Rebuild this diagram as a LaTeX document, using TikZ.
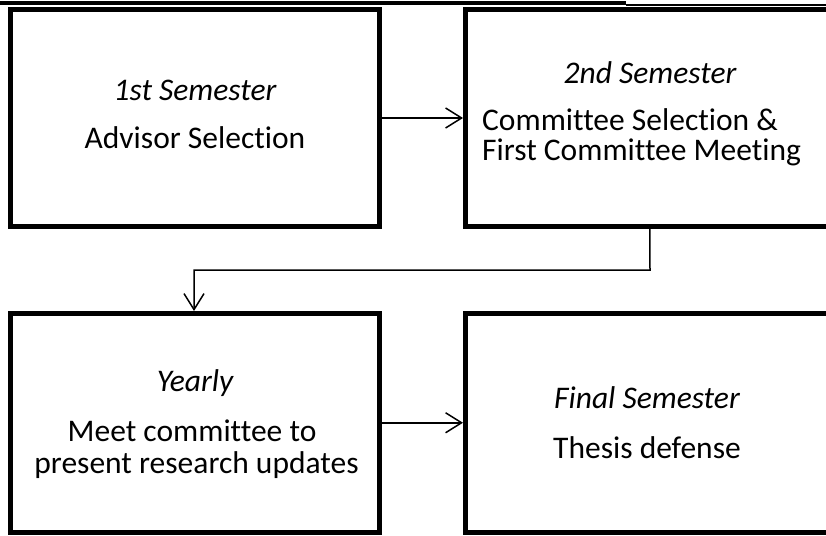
\documentclass[tikz,border=0pt]{standalone}
\usepackage{fontspec}
\setmainfont[Ligatures=NoCommon]{Carlito}
\usetikzlibrary{arrows.meta}
\begin{document}
\begin{tikzpicture}[x=1pt,y=-1pt,
  box/.style={draw=black,line width=5pt,minimum width=368.5pt,inner sep=0pt,fill=white},
  txt/.style={anchor=base,inner sep=0pt,font=\fontsize{31.5}{38}\selectfont},
  ttl/.style={txt,font=\fontsize{31.5}{38}\selectfont\itshape},
  conn/.style={draw=black,line width=1.5pt,-{Straight Barb[length=16pt,width=20pt]}}]
\useasboundingbox (0,0) rectangle (826,535);
\clip (0,0) rectangle (826,535);
% cropped rule at the top edge
\draw[line width=4.5pt] (0,3) -- (626,3);
\draw[line width=2pt] (626,5) -- (826,5);
% boxes
\node[box,minimum height=217pt] (b1) at (194.75,118) {};
\node[box,minimum height=217pt] (b2) at (649.75,118) {};
\node[box,minimum height=218.5pt] (b3) at (194.75,422.75) {};
\node[box,minimum height=218.5pt] (b4) at (649.75,422.75) {};
% texts
\node[ttl] (t1a) at (195,100) {1st Semester};
\node[txt] (t1b) at (195,148) {Advisor Selection};
\node[ttl] (t2a) at (650,83.3) {2nd Semester};
\node[txt,anchor=base west] (t2b) at (482,130) {Committee Selection \&};
\node[txt,anchor=base west] (t2c) at (482,160) {First Committee Meeting};
\node[ttl] (t3a) at (195,391) {Yearly};
\node[txt] (t3b) at (192,441.7) {Meet committee to};
\node[txt] (t3c) at (196.5,473.3) {present research updates};
\node[ttl] (t4a) at (647,408) {Final Semester};
\node[txt] (t4b) at (647,458) {Thesis defense};
% connectors
\coordinate (k1) at (650,270);
\coordinate (k2) at (194,270);
\draw[conn] (b1.east) -- (b2.west);
\draw[conn] (b2.south) -- (k1) -- (k2) -- (k2 |- b3.north);
\draw[conn] (b3.east) -- (b4.west);
\end{tikzpicture}
\end{document}
